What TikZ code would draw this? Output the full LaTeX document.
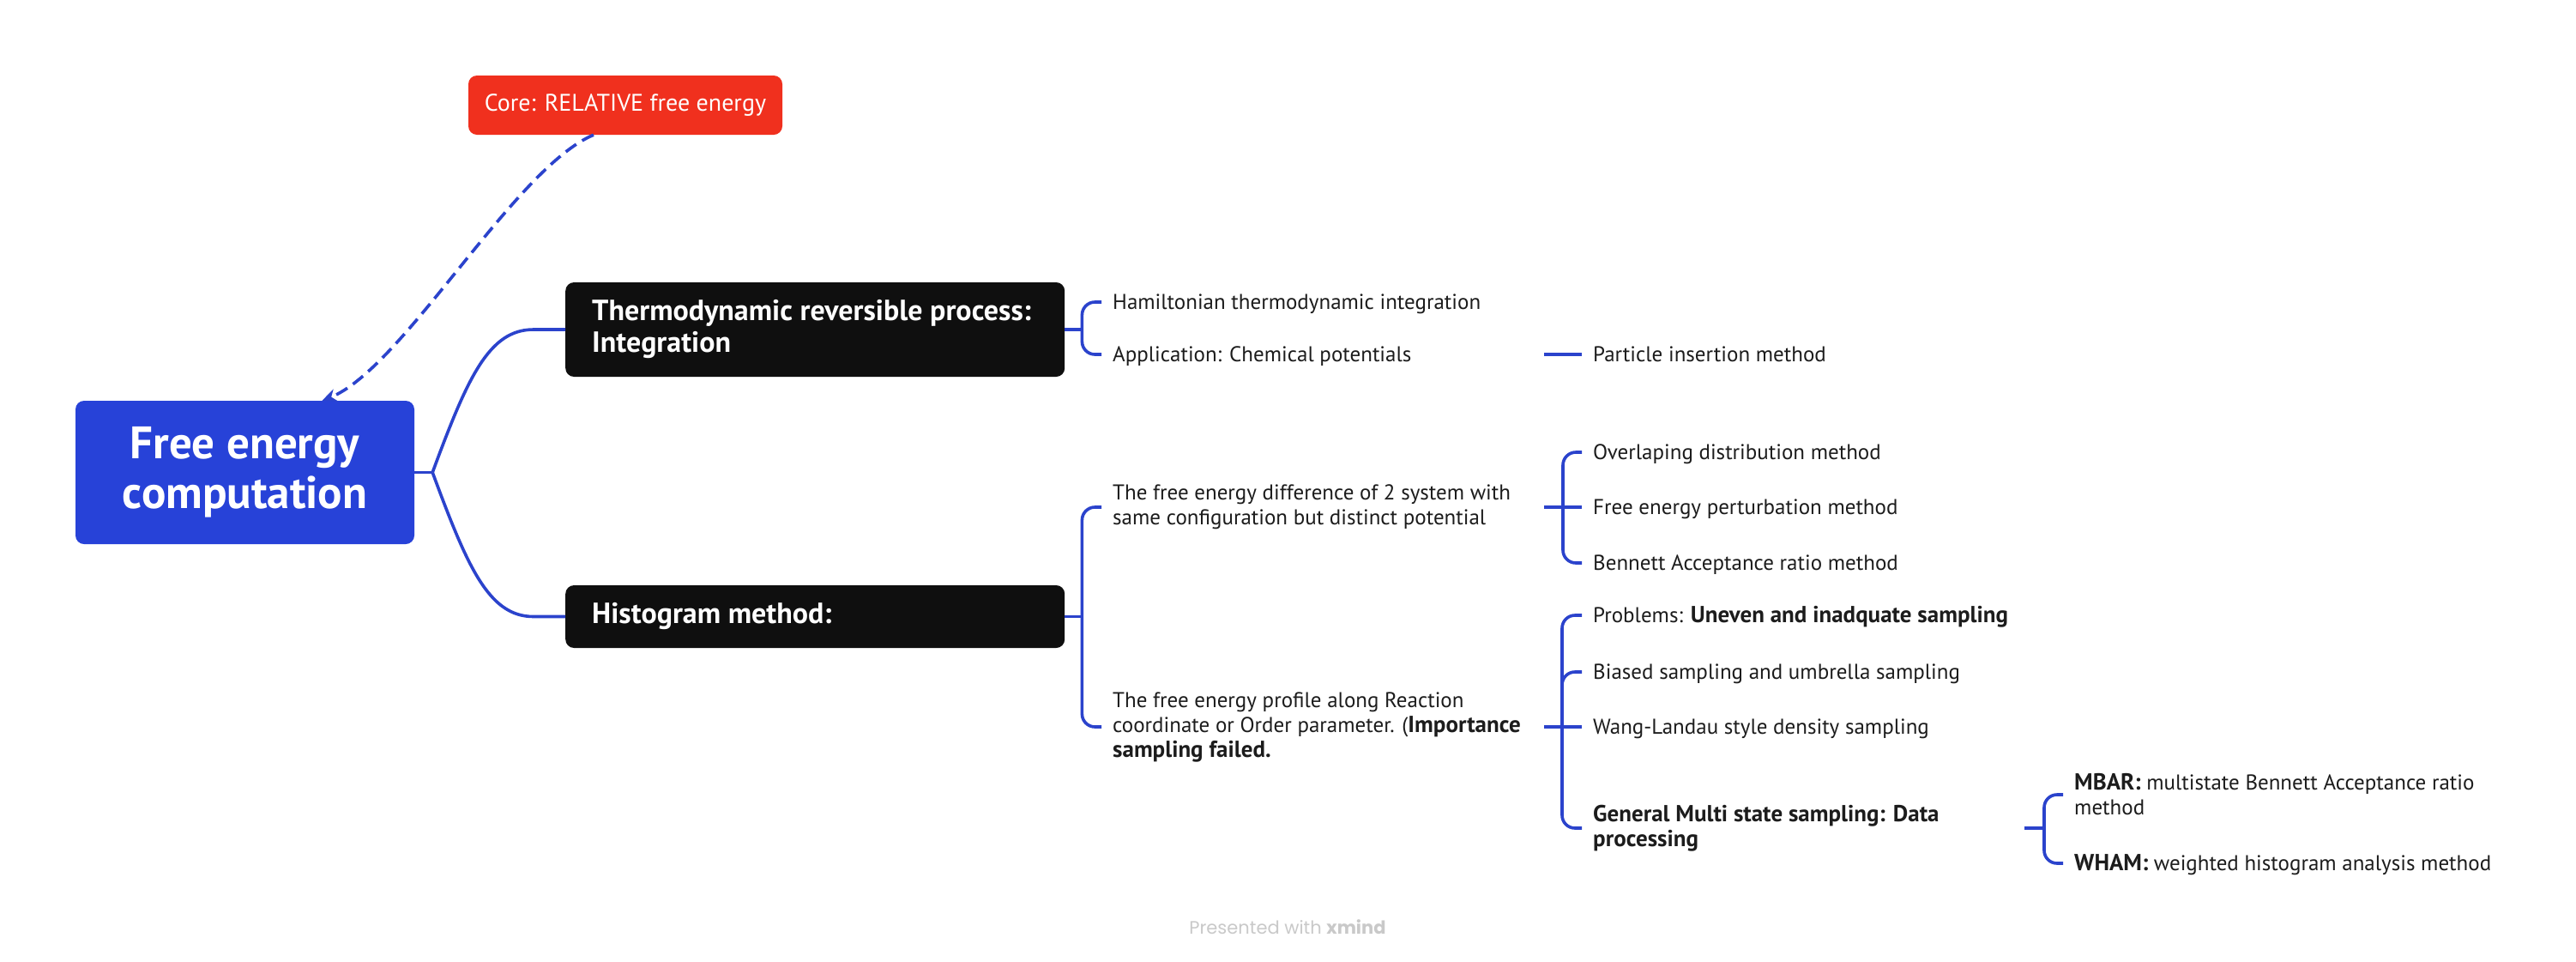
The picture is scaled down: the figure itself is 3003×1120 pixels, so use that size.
\documentclass[tikz,border=0pt]{standalone}
\usepackage{fontspec}
\setmainfont{PT Sans}
\newfontfamily\popfont{Poppins}
\usetikzlibrary{arrows.meta,calc}
\definecolor{rootblue}{HTML}{2742D8}
\definecolor{corered}{HTML}{F0301E}
\definecolor{boxblack}{HTML}{0F0F0F}
\definecolor{linkblue}{HTML}{2B43CC}
\definecolor{txt}{HTML}{1C1C1C}
\definecolor{wmgrey}{HTML}{C9C9C9}
\newcommand\bt[1]{{\fontsize{27}{29}\selectfont\bfseries #1}}
\begin{document}
\begin{tikzpicture}[x=1pt,y=-1pt,
  rootbox/.style={fill=rootblue, rounded corners=10pt, minimum width=395pt, minimum height=167pt, text=white, font=\fontsize{53}{58}\selectfont\bfseries, align=center, inner sep=0pt},
  corebox/.style={fill=corered, rounded corners=10pt, minimum width=366pt, minimum height=69pt, text=white, font=\fontsize{28}{30}\selectfont, inner sep=0pt},
  mainbox/.style={fill=boxblack, rounded corners=10pt, minimum width=582pt, anchor=west, inner sep=0pt},
  boxtext/.style={text=white, font=\fontsize{34}{37}\selectfont\bfseries, align=left, anchor=west, inner sep=0pt},
  leaf/.style={text=txt, font=\fontsize{25}{29}\selectfont, align=left, anchor=west, inner sep=0pt},
  oneline/.style={leaf, text height=23pt, text depth=6pt},
  link/.style={draw=linkblue, line width=3.6pt},
  brace/.style={link, rounded corners=15pt},
  dashlink/.style={draw=linkblue, line width=3.6pt, dash pattern=on 15pt off 8pt, -{Stealth[length=17pt,width=15pt]}}
]
\useasboundingbox (0,0) rectangle (3003,1120);
\fill[white] (0,0) rectangle (3003,1120);

% main nodes
\node[rootbox] (root) at (285.5,550.5) {Free energy\\computation};
\node[corebox] (core) at (729,122.5) {Core: RELATIVE free energy};
\node[mainbox, minimum height=110pt] (thermo) at (659,384) {};
\node[boxtext] (thermotxt) at (690,384) {Thermodynamic reversible process:\\Integration};
\node[mainbox, minimum height=73pt] (histo) at (659,718.5) {};
\node[boxtext] (histotxt) at (690,718.5) {Histogram method:};

% column reference coordinates
\coordinate (colA) at (1800,0);
\coordinate (colB) at (2360,0);

% leaves
\node[oneline] (hamil) at (1297,352) {Hamiltonian thermodynamic integration};
\node[oneline] (appl) at (1297,413) {Application: Chemical potentials};
\node[oneline] (partic) at (1857,413) {Particle insertion method};
\node[leaf] (fediff) at (1297,591) {The free energy difference of 2 system with\\same configuration but distinct potential};
\node[leaf] (feprof) at (1297,847) {The free energy profile along Reaction\\coordinate or Order parameter. (\bt{Importance}\\\bt{sampling failed.}};
\node[oneline] (overlap) at (1857,527) {Overlaping distribution method};
\node[oneline] (fep) at (1857,591) {Free energy perturbation method};
\node[oneline] (bar) at (1857,656) {Bennett Acceptance ratio method};
\node[oneline] (probl) at (1857,717) {Problems: \bt{Uneven and inadquate sampling}};
\node[oneline] (biased) at (1857,783) {Biased sampling and umbrella sampling};
\node[oneline] (wang) at (1857,847) {Wang-Landau style density sampling};
\node[leaf] (general) at (1857,965) {\bt{General Multi state sampling: Data}\\\bt{processing}};
\node[leaf] (mbar) at (2418,926) {\bt{MBAR:} multistate Bennett Acceptance ratio\\method};
\node[oneline] (wham) at (2418,1006) {\bt{WHAM:} weighted histogram analysis method};

\node[text=wmgrey, font=\popfont\fontsize{21}{25}\selectfont, inner sep=0pt] (wm) at (1501,1080) {Presented with \textbf{xmind}};

% root connectors
\draw[link] (root.east) -- ++(21,0) coordinate (rj);
\draw[link] (rj) .. controls +(41,-111) and +(-52,0) .. ([xshift=-37pt]thermo.west) -- (thermo.west);
\draw[link] (rj) .. controls +(41,111) and +(-52,0) .. ([xshift=-37pt]histo.west) -- (histo.west);

% thermo branch
\draw[link] (thermo.east) -- ++(20,0) coordinate (tj);
\draw[brace] ([xshift=-13pt]hamil.west) -| (tj) |- ([xshift=-13pt]appl.west);
\draw[link] (appl.west -| colA) -- ([xshift=-13pt]partic.west);

% histogram branch
\draw[link] (histo.east) -- ++(20,0) coordinate (hj);
\draw[brace] ([xshift=-13pt]fediff.west) -| (hj) |- ([xshift=-13pt]feprof.west);

% free energy difference
\draw[link] (fediff.west -| colA) -- ++(22,0) coordinate (fj);
\draw[brace] ([xshift=-13pt]overlap.west) -| (fj) |- ([xshift=-13pt]bar.west);
\draw[link] (fj) -- ([xshift=-13pt]fep.west);

% free energy profile
\draw[link] (feprof.west -| colA) -- ++(21,0) coordinate (pj);
\draw[brace] ([xshift=-13pt]probl.west) -| (pj) |- ([xshift=-13pt]general.west);
\draw[link] (pj) -- ([xshift=-13pt]wang.west);
\draw[brace] ($(biased.west -| pj)+(0,30)$) -- (biased.west -| pj) -- ([xshift=-13pt]biased.west);

% general multi state
\draw[link] (general.west -| colB) -- ++(23,0) coordinate (gj);
\draw[brace] ([xshift=-13pt]mbar.west) -| (gj) |- ([xshift=-13pt]wham.west);

% dashed relation
\draw[dashlink] ([xshift=-37pt]core.south) .. controls +(-92,38) and +(94,-37) .. ([xshift=90pt]root.north);
\end{tikzpicture}
\end{document}
